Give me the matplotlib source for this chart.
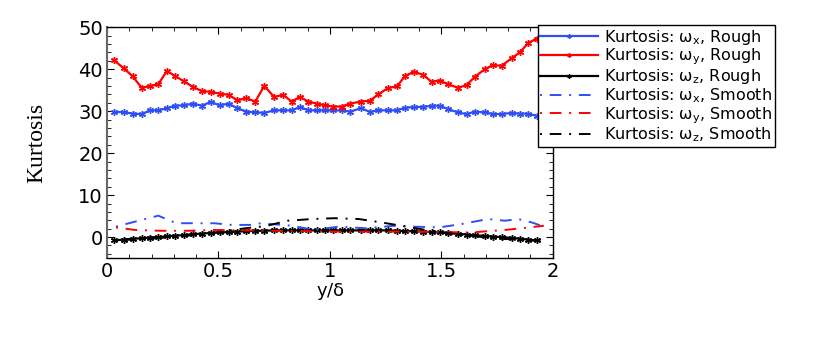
import matplotlib
matplotlib.use("Agg")
import matplotlib.pyplot as plt
from matplotlib.ticker import MultipleLocator

plt.rcParams['mathtext.default'] = 'regular'
plt.rcParams['mathtext.fontset'] = 'dejavusans'

# Rough data (markers)
x_rough = [0.03, 0.075, 0.115, 0.155, 0.193, 0.23, 0.268, 0.305, 0.345, 0.385, 0.425, 0.465,
           0.505, 0.545, 0.585, 0.625, 0.665, 0.705, 0.75, 0.79, 0.828, 0.865, 0.903, 0.94,
           0.978, 1.015, 1.052, 1.09, 1.14, 1.18, 1.217, 1.26, 1.30, 1.338, 1.376, 1.418,
           1.456, 1.493, 1.53, 1.575, 1.613, 1.65, 1.695, 1.732, 1.77, 1.815, 1.852, 1.889, 1.927]
wx_rough = [29.8, 29.8, 29.4, 29.3, 30.2, 30.2, 30.7, 31.3, 31.4, 31.8, 31.3, 32.2,
            31.4, 31.8, 30.7, 29.9, 29.7, 29.6, 30.2, 30.2, 30.2, 31.0, 30.2, 30.2,
            30.2, 30.2, 30.2, 29.9, 30.7, 29.8, 30.2, 30.2, 30.2, 30.8, 31.0, 31.0,
            31.3, 31.3, 30.5, 29.7, 29.3, 29.9, 29.7, 29.3, 29.3, 29.6, 29.4, 29.4, 28.9]
wy_rough = [42.2, 40.2, 38.3, 35.6, 36.0, 36.4, 39.6, 38.4, 37.1, 35.8, 34.8, 34.6,
            34.2, 33.9, 32.6, 33.1, 32.3, 36.0, 33.4, 33.9, 32.3, 33.4, 32.3, 31.8,
            31.4, 31.1, 31.1, 31.8, 32.3, 32.5, 34.0, 35.5, 35.9, 38.4, 39.4, 38.7,
            37.0, 37.3, 36.4, 35.6, 36.2, 38.2, 40.0, 41.0, 40.8, 42.6, 44.0, 46.2, 47.3]
wz_rough = [-0.8, -0.6, -0.4, -0.3, -0.1, 0.0, 0.2, 0.3, 0.5, 0.7, 0.8, 1.0,
            1.1, 1.2, 1.3, 1.4, 1.5, 1.5, 1.6, 1.6, 1.6, 1.6, 1.6, 1.6,
            1.6, 1.6, 1.6, 1.6, 1.6, 1.6, 1.6, 1.6, 1.5, 1.4, 1.4, 1.3,
            1.2, 1.1, 0.9, 0.8, 0.6, 0.4, 0.3, 0.1, 0.0, -0.2, -0.4, -0.6, -0.8]

# Smooth data (dash-dot lines)
x_wx_s = [0.04, 0.12, 0.23, 0.31, 0.48, 0.56, 0.65, 0.69, 0.83, 0.93, 1.04, 1.16, 1.29,
          1.37, 1.49, 1.59, 1.71, 1.785, 1.845, 1.905, 1.96]
wx_smooth = [2.5, 3.6, 5.1, 3.3, 3.3, 2.9, 2.9, 3.3, 2.7, 1.7, 2.5, 2.1, 2.7,
             2.5, 2.3, 3.1, 4.3, 3.9, 4.3, 3.5, 2.5]
x_wy_s = [0.04, 0.125, 0.245, 0.365, 0.48, 0.6, 0.75, 0.9, 1.05, 1.2, 1.36, 1.5, 1.63,
          1.785, 1.86, 1.96]
wy_smooth = [2.3, 1.7, 1.5, 1.5, 1.7, 1.6, 1.5, 1.4, 1.3, 1.3, 1.3, 1.2, 1.1,
             1.7, 2.1, 2.7]
x_wz_s = [0.03, 0.15, 0.3, 0.45, 0.62, 0.71, 0.81, 0.92, 1.02, 1.13, 1.23, 1.32, 1.43,
          1.5, 1.6, 1.7, 1.8, 1.9, 1.96]
wz_smooth = [-0.8, -0.5, 0.0, 0.8, 2.1, 2.6, 3.9, 4.3, 4.5, 4.3, 3.5, 2.7, 1.7,
             1.2, 0.5, -0.1, -0.5, -0.8, -1.0]

blue = '#2f4ff5'
red = '#ff0000'
black = '#000000'

fig = plt.figure(figsize=(8.3, 3.54), dpi=100)
ax = fig.add_axes([0.129, 0.271, 0.537, 0.652])

mk = dict(marker=(6, 2, 0), markersize=5, markeredgewidth=1.0, linewidth=1.6)
ax.plot(x_rough, wx_rough, color=blue, label=r'Kurtosis: $\omega_x$, Rough', **mk)
ax.plot(x_rough, wy_rough, color=red, label=r'Kurtosis: $\omega_y$, Rough', **mk)
ax.plot(x_rough, wz_rough, color=black, label=r'Kurtosis: $\omega_z$, Rough', **mk)
dd = (0, (1, 4, 6, 4))
ax.plot(x_wx_s, wx_smooth, color=blue, linestyle=dd, linewidth=1.4, label=r'Kurtosis: $\omega_x$, Smooth')
ax.plot(x_wy_s, wy_smooth, color=red, linestyle=dd, linewidth=1.4, label=r'Kurtosis: $\omega_y$, Smooth')
ax.plot(x_wz_s, wz_smooth, color=black, linestyle=dd, linewidth=1.4, label=r'Kurtosis: $\omega_z$, Smooth')

ax.set_xlim(0, 2)
ax.set_ylim(-5, 50)
ax.xaxis.set_major_locator(MultipleLocator(0.5))
ax.xaxis.set_minor_locator(MultipleLocator(0.1))
ax.yaxis.set_major_locator(MultipleLocator(10))
ax.yaxis.set_minor_locator(MultipleLocator(2))
ax.set_xticks([0, 0.5, 1, 1.5, 2])
ax.set_xticklabels(['0', '0.5', '1', '1.5', '2'])
ax.tick_params(which='both', direction='in', top=True, right=True,
               labelsize=14, labelfontfamily='DejaVu Sans', pad=3)
ax.tick_params(which='major', length=5)
ax.tick_params(which='minor', length=3)
for s in ax.spines.values():
    s.set_linewidth(1.0)
ax.spines['left'].set_color('#666666')
ax.spines['left'].set_linewidth(1.5)

ax.set_xlabel(r'y/$\delta$', fontsize=13, family='DejaVu Sans', labelpad=0)
ax.set_ylabel('Kurtosis', fontsize=17, family='Liberation Serif', labelpad=22)

leg = fig.legend(loc='upper left', bbox_to_anchor=(0.648, 0.928),
                 prop={'family': 'DejaVu Sans', 'size': 11.5},
                 frameon=True, fancybox=False, edgecolor='black', framealpha=1,
                 handlelength=3.6, labelspacing=0.0, borderpad=0.15, handletextpad=0.4,
                 borderaxespad=0)
leg.get_frame().set_linewidth(1.0)
for h in leg.legend_handles:
    h.set_markersize(3)

fig.savefig('out.png', dpi=100)
